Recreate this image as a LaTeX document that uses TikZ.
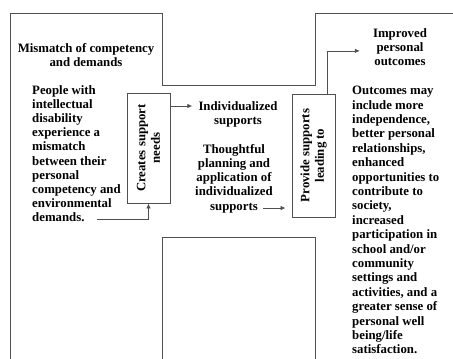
\documentclass[tikz,border=0pt]{standalone}
\usepackage{fontspec}
\setmainfont{Liberation Serif}
\usetikzlibrary{arrows.meta,positioning,calc}
\definecolor{framegray}{RGB}{80,80,80}

\begin{document}
\begin{tikzpicture}[x=1pt, y=-1pt,
    frame/.style={draw=framegray, line width=0.9pt},
    proc/.style={rectangle, draw=framegray, line width=0.9pt, rotate=90,
                 align=center, inner sep=2pt, minimum height=43pt,
                 font=\fontsize{12.8}{14.5}\selectfont\bfseries},
    txt/.style={inner sep=0pt, font=\fontsize{12.8}{14.2}\selectfont\bfseries},
    arr/.style={-{Latex[length=5pt,width=4.5pt]}, line width=0.8pt, framegray}
]
    \useasboundingbox (0,0) rectangle (453,359);
    \draw[frame] (10,359) -- (10,13) -- (162,13) -- (162,85) -- (315,85) -- (315,13) -- (453,13);
    \draw[frame] (162,359) -- (162,237) -- (315,237) -- (315,359);
    \node[proc, minimum width=110pt] (cre) at (148.5,148) {Creates support\\needs};
    \node[proc, minimum width=123pt] (prov) at (313.5,155.5) {Provide supports\\leading to};
    \node[txt, align=center, anchor=north] (mis) at (86,43) {Mismatch of competency\\and demands};
    \node[txt, align=left, anchor=north west] (people) at (32,85) {People with\\intellectual\\disability\\experience a\\mismatch\\between their\\personal\\competency and\\environmental\\demands.};
    \node[txt, align=center, anchor=north] (indiv) at (238,101) {Individualized\\supports};
    \node[txt, align=center, anchor=north] (plan) at (234,144) {Thoughtful\\planning and\\application of\\individualized\\supports};
    \node[txt, align=center, anchor=north] (impr) at (400,28) {Improved\\personal\\outcomes};
    \node[txt, align=left, anchor=north west, font=\fontsize{12.8}{14.4}\selectfont\bfseries] (outc) at (352,86) {Outcomes may\\include more\\independence,\\better personal\\relationships,\\enhanced\\opportunities to\\contribute to\\society,\\increased\\participation in\\school and/or\\community\\settings and\\activities, and a\\greater sense of\\personal well\\being/life\\satisfaction.};
    \coordinate (dem) at (97,219);
    \coordinate (sup) at (263,208);
    \draw[arr] ([yshift=-5pt]cre.south |- indiv.north) -- ([xshift=-6pt,yshift=-5pt]indiv.north west);
    \draw[arr] (dem) -| (cre.west);
    \draw[arr] (sup) -- ([xshift=-6pt]prov.north |- sup);
    \draw[arr] ([xshift=13.5pt]prov.east) |- ([xshift=-13pt,yshift=-4pt]impr.west);
\end{tikzpicture}
\end{document}
